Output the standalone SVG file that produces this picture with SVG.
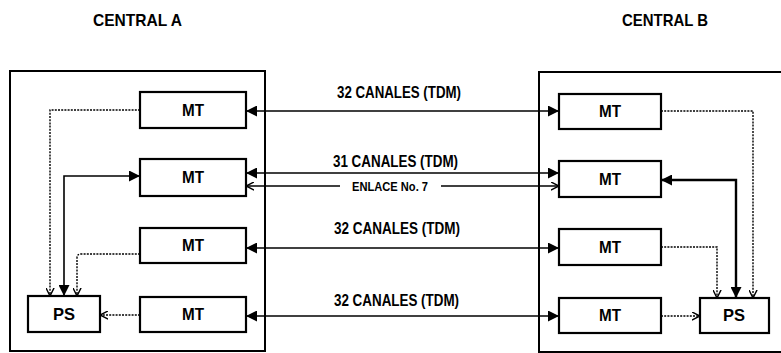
<svg xmlns="http://www.w3.org/2000/svg" width="781" height="353" viewBox="0 0 781 353">
<defs>
<style>
text{font-family:"Liberation Sans",Arial,sans-serif;font-weight:bold;fill:#000}
.title{font-size:17px}
.lbl{font-size:16px}
.lk{font-size:13px}
.nt{font-size:17px}
.box{fill:#fff;stroke:#000;stroke-width:2.2}
.frame{fill:none;stroke:#000;stroke-width:2}
.solid{fill:none;stroke:#000;stroke-width:1.6}
.thick{fill:none;stroke:#000;stroke-width:2.4}
.dot{fill:none;stroke:#000;stroke-width:1.4;stroke-dasharray:2 1.2}
</style>
<marker id="fa" viewBox="0 0 10 10" refX="10" refY="5" markerWidth="11" markerHeight="11" orient="auto-start-reverse" markerUnits="userSpaceOnUse">
<path d="M0,0 L10,5 L0,10 z" fill="#000"/>
</marker>
<marker id="oa" viewBox="0 0 10 10" refX="9" refY="5" markerWidth="9" markerHeight="9" orient="auto-start-reverse" markerUnits="userSpaceOnUse">
<path d="M0,0.5 L9,5 L0,9.5" fill="none" stroke="#000" stroke-width="1.6"/>
</marker>
</defs>
<rect width="781" height="353" fill="#fff"/>

<g id="centralA">
<rect class="frame" x="10" y="71" width="255" height="280"/>
<text class="title" x="93" y="26" textLength="89" lengthAdjust="spacingAndGlyphs">CENTRAL A</text>
</g>
<g id="centralB">
<rect class="frame" x="539" y="72" width="250" height="280"/>
<text class="title" x="622" y="26" textLength="86" lengthAdjust="spacingAndGlyphs">CENTRAL B</text>
</g>

<g id="connectors">
<path class="solid" d="M246,111 H559" marker-start="url(#fa)" marker-end="url(#fa)"/>
<path class="solid" d="M246,173 H559" marker-start="url(#fa)" marker-end="url(#fa)"/>
<path class="solid" d="M246,186 H340" marker-start="url(#oa)"/>
<path class="solid" d="M441,186 H559" marker-end="url(#oa)"/>
<path class="solid" d="M246,248 H559" marker-start="url(#fa)" marker-end="url(#fa)"/>
<path class="solid" d="M246,316 H559" marker-start="url(#fa)" marker-end="url(#fa)"/>
<path class="dot" d="M140,110 H50 V296" marker-end="url(#oa)"/>
<path class="solid" d="M140,176 H64 V296" marker-start="url(#fa)" marker-end="url(#fa)"/>
<path class="dot" d="M140,254 H81 Q77,254 77,258 V296" marker-end="url(#oa)"/>
<path class="dot" d="M140,315 H100" marker-end="url(#oa)"/>
<path class="dot" d="M661,111 H753 V298" marker-end="url(#oa)"/>
<path class="thick" d="M661,180 H736 V298" marker-start="url(#fa)" marker-end="url(#fa)"/>
<path class="dot" d="M661,247 H717 V298" marker-end="url(#oa)"/>
<path class="dot" d="M661,316 H700" marker-end="url(#oa)"/>
<text class="lbl" x="337" y="98" textLength="124" lengthAdjust="spacingAndGlyphs">32 CANALES (TDM)</text>
<text class="lbl" x="333" y="167" textLength="125" lengthAdjust="spacingAndGlyphs">31 CANALES (TDM)</text>
<text class="lk" x="352" y="191" textLength="76" lengthAdjust="spacingAndGlyphs">ENLACE No. 7</text>
<text class="lbl" x="334" y="234" textLength="126" lengthAdjust="spacingAndGlyphs">32 CANALES (TDM)</text>
<text class="lbl" x="334" y="306" textLength="125" lengthAdjust="spacingAndGlyphs">32 CANALES (TDM)</text>
</g>

<g id="mtA1"><rect class="box" x="140" y="92" width="106" height="36"/><text class="nt" x="182" y="116" textLength="22" lengthAdjust="spacingAndGlyphs">MT</text></g>
<g id="mtA2"><rect class="box" x="140" y="159" width="106" height="37"/><text class="nt" x="182" y="183" textLength="22" lengthAdjust="spacingAndGlyphs">MT</text></g>
<g id="mtA3"><rect class="box" x="140" y="228" width="106" height="35"/><text class="nt" x="182" y="251" textLength="22" lengthAdjust="spacingAndGlyphs">MT</text></g>
<g id="mtA4"><rect class="box" x="140" y="297" width="106" height="35"/><text class="nt" x="182" y="320" textLength="22" lengthAdjust="spacingAndGlyphs">MT</text></g>
<g id="psA"><rect class="box" x="28" y="296" width="72" height="36"/><text class="nt" x="53" y="320" textLength="22" lengthAdjust="spacingAndGlyphs">PS</text></g>

<g id="mtB1"><rect class="box" x="559" y="94" width="102" height="35"/><text class="nt" x="599" y="117" textLength="22" lengthAdjust="spacingAndGlyphs">MT</text></g>
<g id="mtB2"><rect class="box" x="559" y="161" width="102" height="36"/><text class="nt" x="599" y="185" textLength="22" lengthAdjust="spacingAndGlyphs">MT</text></g>
<g id="mtB3"><rect class="box" x="559" y="229" width="102" height="36"/><text class="nt" x="599" y="253" textLength="22" lengthAdjust="spacingAndGlyphs">MT</text></g>
<g id="mtB4"><rect class="box" x="559" y="298" width="102" height="35"/><text class="nt" x="599" y="321" textLength="22" lengthAdjust="spacingAndGlyphs">MT</text></g>
<g id="psB"><rect class="box" x="700" y="298" width="69" height="35"/><text class="nt" x="723" y="321" textLength="22" lengthAdjust="spacingAndGlyphs">PS</text></g>
</svg>
